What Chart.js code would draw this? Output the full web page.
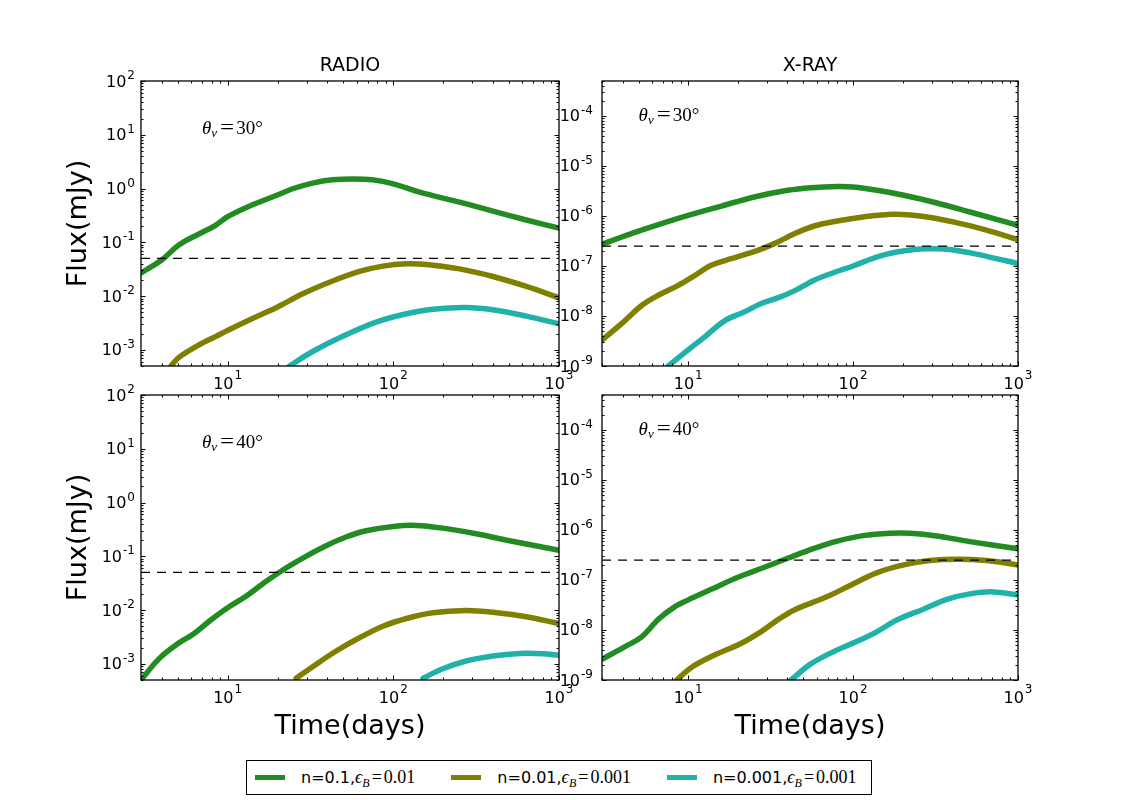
<!DOCTYPE html>
<html>
<head>
<meta charset="utf-8">
<script src="https://cdn.jsdelivr.net/npm/chart.js@4.4.1/dist/chart.umd.min.js"></script>
<style>
body { margin: 0; background: #fff; }
#wrap { position: relative; width: 1131px; height: 800px; overflow: hidden; }
#wrap canvas { position: absolute; }
#legend { position: absolute; left: 246px; top: 760px; width: 626px; height: 35px; box-sizing: border-box;
  border: 1.3px solid #000; display: flex; align-items: center; padding-left: 8px;
  font: 16px "DejaVu Sans"; color: #000; }
#legend .item { display: flex; align-items: center; margin-right: 36px; white-space: nowrap; }
#legend .sw { width: 30px; height: 5.5px; margin-right: 16px; }
#legend .m { font-family: "Liberation Serif"; font-size: 18px; }
#legend .m i { font-style: italic; }
#legend .m sub { font-size: 12px; vertical-align: -4px; line-height: 0; font-style: italic; }
#legend .m .eq { margin: 0 2px; }
</style>
</head>
<body>
<div id="wrap">
  <canvas id="radio30" width="520" height="356" style="left:65px;top:40px"></canvas>
  <canvas id="xray30" width="514" height="356" style="left:530px;top:40px"></canvas>
  <canvas id="radio40" width="520" height="365" style="left:65px;top:375px"></canvas>
  <canvas id="xray40" width="514" height="365" style="left:530px;top:375px"></canvas>
  <div id="legend"></div>
</div>
<script>
// axes
var tMin = 3, tMax = 1000;
var timeTicks = [10, 100, 1000];
var radioRange = [5e-4, 100];
var radioTicks = [1e-3, 1e-2, 1e-1, 1, 10, 100];
var xrayRange = [1e-9, 5e-4];
var xrayTicks = [1e-9, 1e-8, 1e-7, 1e-6, 1e-5, 1e-4];
var radioLimit = 0.05;
var xrayLimit = 2.5e-7;

// series
var seriesNames = ['n=0.1', 'n=0.01', 'n=0.001'];
var seriesEpsB = ['0.01', '0.001', '0.001'];
var seriesColors = ['#228B22', '#808000', '#20B2AA'];

// RADIO, theta_v = 30
var radio30T1 = [3, 4, 5.1, 6.75, 8.3, 10, 13.5, 19.6, 24.7, 32.6, 43, 57, 75, 100, 144, 251, 399, 635, 1000];
var radio30F1 = [0.027, 0.047, 0.09, 0.144, 0.2, 0.3, 0.47, 0.74, 0.99, 1.26, 1.45, 1.51, 1.45, 1.22, 0.855, 0.557, 0.38, 0.26, 0.183];
var radio30T2 = [4.55, 5.1, 6.6, 8.5, 10, 13.5, 19.6, 28.4, 43, 62.5, 86.5, 120, 158, 251, 399, 635, 1000];
var radio30F2 = [5e-4, 7.3e-4, 1.2e-3, 1.78e-3, 2.3e-3, 3.6e-3, 6.05e-3, 0.011, 0.019, 0.0287, 0.036, 0.0398, 0.0387, 0.032, 0.0231, 0.0151, 0.0093];
var radio30T3 = [23.6, 32.6, 49.5, 78.7, 120, 173, 275, 399, 635, 1000];
var radio30F3 = [5e-4, 9.3e-4, 1.78e-3, 3.27e-3, 4.68e-3, 5.7e-3, 6.14e-3, 5.56e-3, 4.24e-3, 3.05e-3];

// X-RAY, theta_v = 30
var xray30T1 = [3, 3.96, 5, 7.94, 10, 15.9, 25.2, 40.1, 55.4, 80.3, 100, 140, 203, 322, 511, 1000];
var xray30F1 = [2.72e-7, 3.8e-7, 5.0e-7, 8.2e-7, 1.03e-6, 1.58e-6, 2.4e-6, 3.26e-6, 3.68e-6, 3.9e-6, 3.8e-6, 3.26e-6, 2.59e-6, 1.82e-6, 1.2e-6, 6.5e-7];
var xray30T2 = [3, 3.96, 5.24, 6.59, 8.7, 11, 13.8, 18.2, 26.4, 33.3, 44, 58, 80.3, 115, 176, 255, 405, 644, 1000];
var xray30F2 = [3.3e-9, 7.1e-9, 1.64e-8, 2.6e-8, 4.1e-8, 6.5e-8, 1.03e-7, 1.4e-7, 2.06e-7, 2.8e-7, 4.4e-7, 6.3e-7, 7.95e-7, 9.55e-7, 1.08e-6, 1.0e-6, 7.6e-7, 5.2e-7, 3.37e-7];
var xray30T3 = [7.57, 10, 12.6, 16.6, 22, 27.7, 34.9, 44, 58, 76.5, 100, 140, 184, 255, 322, 445, 644, 1000];
var xray30F3 = [1e-9, 2.1e-9, 3.83e-9, 8e-9, 1.21e-8, 1.78e-8, 2.3e-8, 3.18e-8, 5.2e-8, 7.4e-8, 1.0e-7, 1.52e-7, 1.9e-7, 2.18e-7, 2.2e-7, 2.0e-7, 1.56e-7, 1.12e-7];

// RADIO, theta_v = 40
var radio40T1 = [3.06, 3.86, 5.1, 6.15, 7.75, 10, 12.9, 17.1, 22.5, 29.7, 39.3, 51.8, 68.5, 100, 137, 199, 316, 503, 1000];
var radio40F1 = [5.4e-4, 1.25e-3, 2.47e-3, 3.5e-3, 6.2e-3, 0.011, 0.018, 0.0343, 0.0606, 0.1, 0.157, 0.228, 0.298, 0.359, 0.375, 0.334, 0.262, 0.195, 0.129];
var radio40T2 = [25.9, 32.6, 45.2, 62.5, 86.5, 120, 173, 275, 399, 635, 1000];
var radio40F2 = [5.4e-4, 8.85e-4, 1.73e-3, 3.05e-3, 5.0e-3, 6.97e-3, 8.9e-3, 9.8e-3, 9.1e-3, 7.5e-3, 5.6e-3];
var radio40T3 = [151, 199, 275, 399, 578, 800, 1000];
var radio40F3 = [5.4e-4, 8.1e-4, 1.13e-3, 1.4e-3, 1.56e-3, 1.54e-3, 1.44e-3];

// X-RAY, theta_v = 40
var xray40T1 = [3, 3.96, 5.24, 6.59, 8.31, 10, 13.8, 20, 29, 40.1, 58, 80.3, 115, 168, 222, 322, 511, 1000];
var xray40F1 = [2.6e-9, 4.3e-9, 7.4e-9, 1.64e-8, 2.94e-8, 4.0e-8, 6.5e-8, 1.13e-7, 1.8e-7, 2.72e-7, 4.3e-7, 6.0e-7, 7.7e-7, 8.6e-7, 8.6e-7, 7.6e-7, 5.85e-7, 4.2e-7];
var xray40T2 = [8.5, 10.5, 13.8, 21, 27.7, 34.9, 44, 69.8, 100, 140, 203, 293, 425, 644, 1000];
var xray40F2 = [1e-9, 1.8e-9, 2.95e-9, 5.45e-9, 9.3e-9, 1.59e-8, 2.52e-8, 4.66e-8, 8.35e-8, 1.4e-7, 2.0e-7, 2.44e-7, 2.6e-7, 2.44e-7, 2.0e-7];
var xray40T3 = [42, 55.4, 76.5, 111, 140, 184, 267, 370, 511, 706, 1000];
var xray40F3 = [1e-9, 2.1e-9, 3.72e-9, 6.35e-9, 9.3e-9, 1.59e-8, 2.6e-8, 4.1e-8, 5.27e-8, 5.78e-8, 5.0e-8];

Chart.defaults.font.family = '"DejaVu Sans"';
Chart.defaults.color = '#000';

var BASE_FONT = '16px "DejaVu Sans"';
var EXP_FONT = '12px "DejaVu Sans"';

function logMarks(min, max) {
  var out = [];
  for (var k = Math.floor(Math.log10(min)); k <= Math.ceil(Math.log10(max)); k++) {
    for (var m = 1; m <= 9; m++) {
      var v = m * Math.pow(10, k);
      if (v >= min * 0.999 && v <= max * 1.001) out.push([v, m === 1]);
    }
  }
  return out;
}

// "10" with a raised exponent; x is the centre (align 'center') or the right edge (align 'right')
function drawPow(ctx, v, x, y, align, raise) {
  var e = String(Math.round(Math.log10(v)));
  ctx.font = BASE_FONT;
  var wb = ctx.measureText('10').width;
  ctx.font = EXP_FONT;
  var we = ctx.measureText(e).width + 1;
  var x0 = align === 'center' ? x - (wb + we) / 2 : x - wb - we;
  ctx.font = BASE_FONT;
  ctx.fillText('10', x0, y);
  ctx.font = EXP_FONT;
  ctx.fillText(e, x0 + wb + 1, y - raise);
}

// matplotlib-style box with inward ticks on all four sides, plus the tick labels
var framePlugin = {
  id: 'frame',
  afterDatasetsDraw: function (chart, args, o) {
    var ctx = chart.ctx, a = chart.chartArea, x = chart.scales.x, y = chart.scales.y;
    ctx.save();
    ctx.strokeStyle = '#000';
    ctx.lineWidth = 1;
    ctx.beginPath();
    logMarks(x.min, x.max).forEach(function (t) {
      var p = Math.round(x.getPixelForValue(t[0])) + 0.5, len = t[1] ? 4.5 : 2.5;
      ctx.moveTo(p, a.bottom); ctx.lineTo(p, a.bottom - len);
      ctx.moveTo(p, a.top); ctx.lineTo(p, a.top + len);
    });
    logMarks(y.min, y.max).forEach(function (t) {
      var p = Math.round(y.getPixelForValue(t[0])) + 0.5, len = t[1] ? 4.5 : 2.5;
      ctx.moveTo(a.left, p); ctx.lineTo(a.left + len, p);
      ctx.moveTo(a.right, p); ctx.lineTo(a.right - len, p);
    });
    ctx.stroke();
    ctx.lineWidth = 1.3;
    ctx.strokeRect(a.left, a.top, a.right - a.left, a.bottom - a.top);

    ctx.fillStyle = '#000';
    ctx.textBaseline = 'alphabetic';
    ctx.textAlign = 'left';
    x.ticks.forEach(function (t) {
      drawPow(ctx, t.value, x.getPixelForValue(t.value), a.bottom + 22.5, 'center', 10);
    });
    y.ticks.forEach(function (t) {
      drawPow(ctx, t.value, a.left - o.gap, y.getPixelForValue(t.value) + 5.5, 'right', 7.5);
    });
    ctx.restore();
  }
};

// theta_v = NN° label, placed in data coordinates
var thetaPlugin = {
  id: 'theta',
  afterDraw: function (chart, args, o) {
    if (!o.angle) return;
    var ctx = chart.ctx;
    var px = chart.scales.x.getPixelForValue(o.x);
    var py = chart.scales.y.getPixelForValue(o.y);
    ctx.save();
    ctx.fillStyle = '#000';
    ctx.textAlign = 'left';
    ctx.textBaseline = 'alphabetic';
    ctx.font = 'italic 19px "Liberation Serif"';
    ctx.fillText('\u03B8', px, py);
    px += ctx.measureText('\u03B8').width;
    ctx.font = 'italic 13px "Liberation Serif"';
    ctx.fillText('v', px, py + 3);
    px += ctx.measureText('v').width + 3;
    ctx.font = '20px "Liberation Serif"';
    ctx.save();
    ctx.scale(1.25, 1);
    ctx.fillText('=', px / 1.25, py);
    ctx.restore();
    px += ctx.measureText('=').width * 1.25 + 2;
    ctx.font = '19px "Liberation Serif"';
    ctx.fillText(o.angle + '\u00B0', px, py);
    ctx.restore();
  }
};

// legend as html, built from the datasets flagged for it
var htmlLegend = {
  id: 'htmlLegend',
  afterInit: function (chart, args, o) {
    if (!o.target) return;
    var box = document.getElementById(o.target);
    chart.data.datasets.forEach(function (ds) {
      if (!ds.epsB) return;
      var item = document.createElement('div');
      item.className = 'item';
      item.innerHTML = '<span class="sw" style="background:' + ds.borderColor + '"></span>' +
        '<span>' + ds.label + ',<span class="m"><i>\u03F5</i><sub>B</sub><span class="eq">=</span>' + ds.epsB + '</span></span>';
      box.appendChild(item);
    });
  }
};

function pts(t, f) {
  return t.map(function (v, i) { return { x: v, y: f[i] }; });
}

function makePanel(p) {
  var datasets = [{
    data: [{ x: tMin, y: p.limit }, { x: tMax, y: p.limit }],
    borderColor: '#000', borderWidth: 1.3, borderDash: [9, 7], pointRadius: 0, clip: 0
  }];
  p.series.forEach(function (s, i) {
    datasets.push({
      label: seriesNames[i], epsB: seriesEpsB[i],
      data: pts(s[0], s[1]),
      borderColor: seriesColors[i], borderWidth: 5.5, pointRadius: 0,
      tension: 0.35, borderJoinStyle: 'round', borderCapStyle: 'round', clip: 0
    });
  });
  return new Chart(document.getElementById(p.id), {
    type: 'line',
    data: { datasets: datasets },
    plugins: [framePlugin, thetaPlugin, htmlLegend],
    options: {
      responsive: false, animation: false, events: [],
      layout: { padding: p.pad },
      plugins: {
        legend: { display: false }, tooltip: { enabled: false },
        title: { display: !!p.title, text: p.title, fullSize: false,
          font: { size: 19, weight: 'normal', lineHeight: 1 }, padding: { top: 0, bottom: 5 } },
        theta: { angle: p.angle, x: p.label[0], y: p.label[1] },
        frame: { gap: p.labelGap },
        htmlLegend: { target: p.legend }
      },
      scales: {
        x: {
          type: 'logarithmic', min: tMin, max: tMax,
          grid: { display: false, drawTicks: false }, border: { display: false },
          ticks: { display: false },
          afterBuildTicks: function (s) { s.ticks = timeTicks.map(function (v) { return { value: v }; }); },
          afterFit: function (s) { s.height = p.xH; },
          title: { display: p.xTitle, text: 'Time(days)', font: { size: 27, lineHeight: 1 }, padding: 0 }
        },
        y: {
          type: 'logarithmic', min: p.range[0], max: p.range[1],
          grid: { display: false, drawTicks: false }, border: { display: false },
          ticks: { display: false },
          afterBuildTicks: function (s) { s.ticks = p.ticks.map(function (v) { return { value: v }; }); },
          afterFit: function (s) { s.width = p.yW; },
          title: { display: p.yTitle, text: 'Flux(mJy)', font: { size: 27, lineHeight: 1 }, padding: 0 }
        }
      }
    }
  });
}

makePanel({ id: 'radio30', title: 'RADIO', angle: '30', label: [7, 10.5], range: radioRange, ticks: radioTicks,
  limit: radioLimit, yTitle: true, xTitle: false, yW: 76, xH: 30, labelGap: 6,
  pad: { left: 0, top: 17, right: 26, bottom: 0 },
  series: [[radio30T1, radio30F1], [radio30T2, radio30F2], [radio30T3, radio30F3]] });
makePanel({ id: 'xray30', title: 'X-RAY', angle: '30', label: [5, 8e-5], range: xrayRange, ticks: xrayTicks,
  limit: xrayLimit, yTitle: false, xTitle: false, yW: 72, xH: 30, labelGap: 9,
  pad: { left: 0, top: 17, right: 26, bottom: 0 },
  series: [[xray30T1, xray30F1], [xray30T2, xray30F2], [xray30T3, xray30F3]] });
makePanel({ id: 'radio40', title: '', angle: '40', label: [7, 10.5], range: radioRange, ticks: radioTicks,
  limit: radioLimit, yTitle: true, xTitle: true, yW: 76, xH: 60, labelGap: 6, legend: 'legend',
  pad: { left: 0, top: 20, right: 26, bottom: 0 },
  series: [[radio40T1, radio40F1], [radio40T2, radio40F2], [radio40T3, radio40F3]] });
makePanel({ id: 'xray40', title: '', angle: '40', label: [5, 8e-5], range: xrayRange, ticks: xrayTicks,
  limit: xrayLimit, yTitle: false, xTitle: true, yW: 72, xH: 60, labelGap: 9,
  pad: { left: 0, top: 20, right: 26, bottom: 0 },
  series: [[xray40T1, xray40F1], [xray40T2, xray40F2], [xray40T3, xray40F3]] });
</script>
</body>
</html>
